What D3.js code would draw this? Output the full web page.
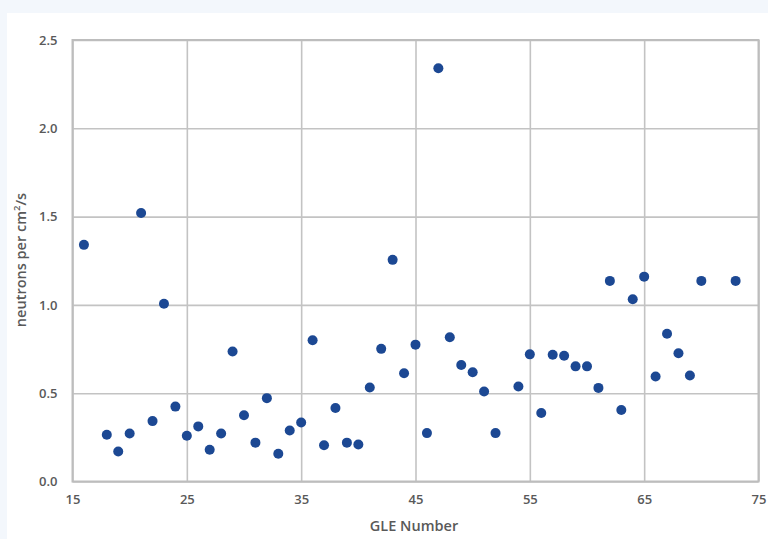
<!DOCTYPE html>
<html>
<head>
<meta charset="utf-8">
<script src="https://cdn.jsdelivr.net/npm/d3@7"></script>
<style>
  html, body { margin: 0; padding: 0; background: #f3f7fc; }
  svg { display: block; }
  text { font-family: "Open Sans", "DejaVu Sans", sans-serif; fill: #595959; font-weight: 600; }
</style>
</head>
<body>
<svg id="chart" width="768" height="539"></svg>
<script>
// GLE event numbers and peak neutron flux (neutrons per cm²/s)
const gleNumbers = [16, 18, 19, 20, 21, 22, 23, 24, 25, 26, 27, 28, 29, 30, 31, 32, 33, 34, 35,
  36, 37, 38, 39, 40, 41, 42, 43, 44, 45, 46, 47, 48, 49, 50, 51, 52, 54, 55, 56, 57, 58, 59,
  60, 61, 62, 63, 64, 65, 66, 67, 68, 69, 70, 73];
const neutronFlux = [1.34, 0.265, 0.17, 0.272, 1.52, 0.342, 1.007, 0.424, 0.259, 0.312, 0.18, 0.272, 0.736,
  0.375, 0.22, 0.472, 0.157, 0.289, 0.334, 0.80, 0.205, 0.416, 0.22, 0.21, 0.532, 0.751, 1.255,
  0.613, 0.775, 0.274, 2.34, 0.817, 0.66, 0.619, 0.51, 0.274, 0.538, 0.72, 0.388, 0.718, 0.712,
  0.652, 0.652, 0.53, 1.136, 0.405, 1.032, 1.16, 0.595, 0.837, 0.726, 0.60, 1.136, 1.136];
const xTicks = [15, 25, 35, 45, 55, 65, 75];
const yTicks = [0.0, 0.5, 1.0, 1.5, 2.0, 2.5];

const svg = d3.select("#chart");
const W = 768, H = 539;
const plot = { left: 72.5, right: 758.5, top: 40, bottom: 481.5 };

// white card behind the chart
svg.append("rect")
  .attr("x", 7).attr("y", 13)
  .attr("width", W - 7).attr("height", H - 13)
  .attr("fill", "#ffffff");

const x = d3.scaleLinear().domain([15, 75]).range([plot.left, plot.right]);
const y = d3.scaleLinear().domain([0, 2.5]).range([plot.bottom, plot.top]);

const gridColor = "#c3c3c3";

// vertical gridlines and x tick labels
const xAxis = svg.append("g")
  .attr("transform", `translate(0,${plot.bottom})`)
  .call(d3.axisBottom(x).tickValues(xTicks).tickSize(-(plot.bottom - plot.top)).tickPadding(13).tickFormat(d3.format("d")));
xAxis.select(".domain").remove();
xAxis.selectAll(".tick line").attr("stroke", gridColor).attr("stroke-width", 1.6);
xAxis.selectAll(".tick text").attr("font-size", 13).style("fill", "#595959");

// horizontal gridlines and y tick labels
const yAxis = svg.append("g")
  .attr("transform", `translate(${plot.left},0)`)
  .call(d3.axisLeft(y).tickValues(yTicks).tickSize(-(plot.right - plot.left)).tickPadding(15).tickFormat(d3.format(".1f")));
yAxis.select(".domain").remove();
yAxis.selectAll(".tick line").attr("stroke", gridColor).attr("stroke-width", 1.6);
yAxis.selectAll(".tick text").attr("font-size", 13).style("fill", "#595959");

// plot frame
svg.append("rect")
  .attr("x", plot.left).attr("y", plot.top)
  .attr("width", plot.right - plot.left).attr("height", plot.bottom - plot.top)
  .attr("fill", "none").attr("stroke", "#bdbdbd").attr("stroke-width", 2);

// data points
const data = gleNumbers.map((g, i) => ({ g, v: neutronFlux[i] }));
svg.append("g").selectAll("circle")
  .data(data)
  .join("circle")
  .attr("cx", d => x(d.g))
  .attr("cy", d => y(d.v))
  .attr("r", 5)
  .attr("fill", "#1c4893");

// axis titles
svg.append("text")
  .attr("x", 414)
  .attr("y", 531)
  .attr("text-anchor", "middle")
  .attr("font-size", 14.5)
  .text("GLE Number");

const yTitle = svg.append("text")
  .attr("transform", `translate(26,260) rotate(-90)`)
  .attr("text-anchor", "middle")
  .attr("font-size", 14.5);
yTitle.append("tspan").text("neutrons per cm");
yTitle.append("tspan").attr("baseline-shift", "super").attr("font-size", 9.5).text("2");
yTitle.append("tspan").text("/s");
</script>
</body>
</html>
